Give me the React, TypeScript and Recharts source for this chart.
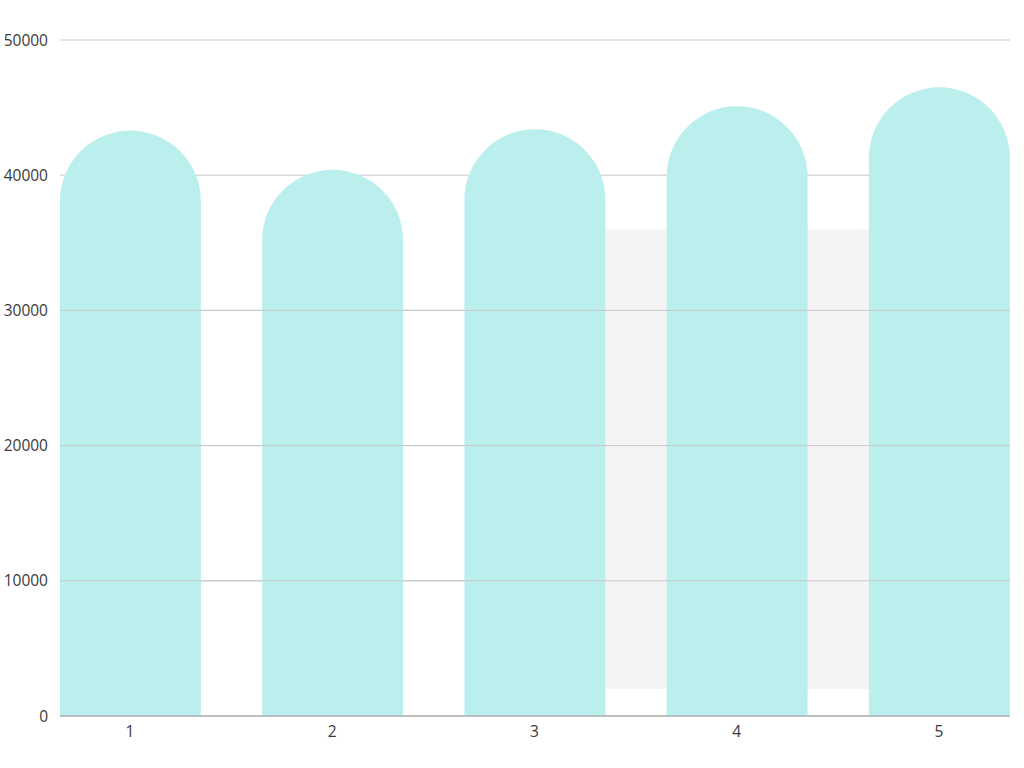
import { BarChart, Bar, XAxis, YAxis, CartesianGrid, ReferenceArea, ReferenceLine } from 'recharts';

const positions = [1, 2, 3, 4, 5];
const values = [43300, 40400, 43400, 45100, 46500];
const yTicks = [0, 10000, 20000, 30000, 40000, 50000];
const band = { from: 3, to: 5, low: 2000, high: 36000 };

const data = positions.map((x, i) => ({ x, value: values[i] }));
// grid lines that fall inside the shaded band, redrawn on top of it
const bandLines = yTicks.filter((t) => t > band.low && t < band.high);

const tickStyle = { fill: '#3a3a3a', fontSize: 15.5, fontFamily: 'Open Sans' };

export default function App() {
  return (
    <div style={{ position: 'absolute', left: 0, top: 0, width: 1024, height: 768, background: '#fff' }}>
      <BarChart width={1024} height={768} data={data} margin={{ top: 40, right: 14, left: 0, bottom: 0 }}>
        <CartesianGrid vertical={false} stroke="#c8c8c8" />
        <ReferenceArea x1={band.from} x2={band.to} y1={band.low} y2={band.high} fill="#f4f4f4" fillOpacity={1} stroke="none" />
        {bandLines.map((t) => (
          <ReferenceLine key={t} y={t} stroke="#c8c8c8" />
        ))}
        <XAxis
          dataKey="x"
          type="number"
          domain={[1, 5]}
          ticks={positions}
          padding={{ left: 70, right: 71 }}
          height={52}
          tickLine={false}
          tickMargin={4}
          stroke="#999"
          tick={tickStyle}
        />
        <YAxis
          domain={[0, 50000]}
          ticks={yTicks}
          width={60}
          axisLine={false}
          tickLine={false}
          tickMargin={6}
          tick={tickStyle}
        />
        <Bar dataKey="value" fill="#bbefed" barSize={141} radius={[71, 71, 0, 0]} isAnimationActive={false} />
      </BarChart>
    </div>
  );
}
